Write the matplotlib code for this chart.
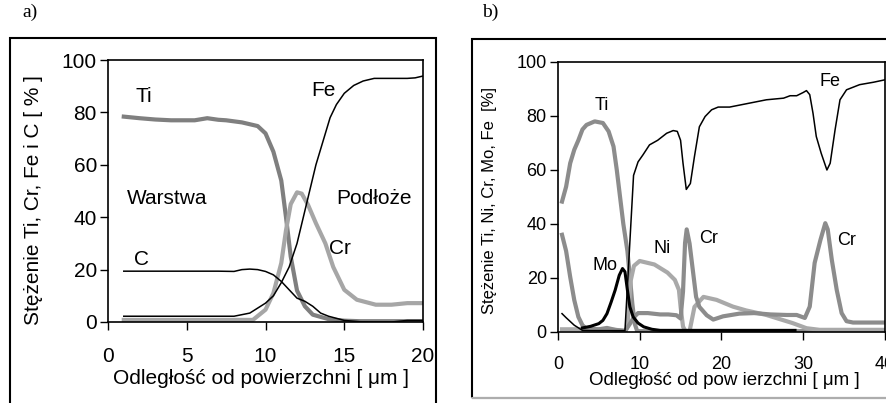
import matplotlib
matplotlib.use("Agg")
import matplotlib.pyplot as plt
from matplotlib.patches import Rectangle
from matplotlib.lines import Line2D

plt.rcParams['font.family'] = ['Liberation Sans', 'DejaVu Sans']

# panel a) - profil Ti, Cr, Fe, C
a_ti_x = [1, 2, 3, 4, 5, 5.5, 6.3, 7, 7.5, 8.5, 9.5, 10, 10.5, 11, 11.3, 11.6, 12, 12.5, 13, 14, 15, 16, 18, 20]
a_ti_y = [78.4, 77.8, 77.3, 77.0, 77.0, 77.0, 77.8, 77.2, 77.0, 76.2, 74.8, 72, 65, 54, 40, 25, 12, 6, 2.8, 1.1, 0.5, 0.3, 0.3, 0.3]

a_cr_x = [1, 3, 5, 7, 8, 9.2, 10, 10.5, 11, 11.3, 11.6, 12, 12.3, 12.7, 13.2, 13.8, 14.3, 15, 15.8, 17, 18, 19, 20]
a_cr_y = [0.8, 0.8, 0.8, 0.8, 0.8, 0.8, 4.7, 11, 22.5, 35, 45, 49.5, 49, 44.7, 37.7, 30, 21, 12.3, 8.5, 6.6, 6.6, 7.2, 7.2]

a_fe_x = [1, 3, 5, 7, 8, 9, 10, 10.5, 11, 11.5, 12, 12.4, 12.8, 13.2, 13.6, 14.1, 14.5, 15, 15.6, 16.2, 16.9, 18, 19, 19.5, 20]
a_fe_y = [2.2, 2.2, 2.2, 2.2, 2.2, 3.4, 7.2, 10, 15, 21, 30, 40, 50, 60, 68, 78, 83, 87.3, 90.3, 92, 93, 93, 93, 93.2, 93.9]

a_c_x = [1, 3, 5, 7, 8, 8.5, 9, 9.5, 10, 10.5, 11, 11.5, 12, 12.5, 13, 13.5, 14, 15, 16, 17, 18, 19, 20]
a_c_y = [19.4, 19.4, 19.4, 19.4, 19.3, 20, 20.2, 20, 19.3, 18, 15.5, 12.3, 9.1, 7.9, 6, 3.4, 2.2, 0.6, 0.1, 0, 0, 0.6, 0.6]

# panel b) - profil Ti, Ni, Cr, Mo, Fe
b_ti_x = [0.5, 1, 1.5, 2, 2.5, 3, 3.5, 4.5, 5.5, 6.2, 6.8, 7.2, 7.6, 8, 8.5, 8.8, 9.1, 9.4, 9.7, 40]
b_ti_y = [48.3, 53.8, 62.5, 67.5, 71, 75, 76.7, 78, 77.4, 74.3, 68.7, 60, 50, 40, 30, 20.4, 10.5, 3, 0.3, 0.3]

b_cr_x = [0.5, 1, 1.5, 2, 2.5, 3, 3.5, 5, 6, 7, 8.2, 8.8, 9.3, 9.8, 11, 12.5, 13.5, 14.5, 15.0, 15.3, 15.55, 15.75, 16.1, 16.5, 16.9, 17.3, 18.2, 19, 20.2, 22.2, 24, 26, 28, 29.2, 30.2, 30.8, 31.4, 32.1, 32.7, 33.0, 33.5, 34.1, 34.7, 35.3, 36.1, 38, 40]
b_cr_y = [36, 30, 20.4, 11.8, 5.6, 2.5, 1.2, 1, 1.5, 0.8, 0.3, 3, 5.5, 7, 7, 6.5, 6.5, 6.2, 5, 15, 33, 38, 32.8, 22.9, 13, 9.3, 6.2, 4.6, 5.8, 6.8, 7, 6.5, 6.3, 6.3, 5.2, 9.4, 25.6, 34, 40.3, 38, 26.7, 15.6, 7, 4, 3.5, 3.5, 3.5]

b_ni_x = [0.5, 3, 6, 8.3, 8.5, 8.7, 8.9, 9.3, 10.0, 11.8, 13.4, 14.3, 14.8, 15.0, 15.3, 15.6, 16.1, 16.7, 17.8, 19.4, 21.4, 23, 25.5, 28.7, 30.4, 32, 40]
b_ni_y = [1, 1, 1, 0.5, 2, 10, 19, 24.5, 26.3, 25, 22, 19.3, 15.6, 9.4, 2, 0.3, 0.3, 9.3, 13, 11.9, 9.4, 8, 6.3, 3.3, 1.4, 0.8, 0.8]

b_mo_x = [3, 4, 5, 5.5, 6, 6.5, 7, 7.5, 7.9, 8.2, 8.5, 8.8, 9.2, 9.8, 10.5, 11.5, 12.5, 20, 29]
b_mo_y = [1.5, 2.1, 3.1, 4.3, 6.8, 11, 15.5, 21, 23.5, 22.3, 15.5, 9.3, 5.6, 3.3, 1.9, 1, 0.6, 0.6, 0.6]

b_fe_x = [0.5, 1, 2, 3, 4, 7, 8.2, 9.25, 9.8, 10.4, 11.2, 12.2, 13.3, 14.1, 14.6, 15, 15.3, 15.7, 16.2, 16.7, 17.3, 18, 18.8, 19.6, 21, 23, 25.5, 27.6, 28.4, 29.2, 30, 30.4, 30.8, 31.2, 31.6, 32.2, 32.9, 33.3, 33.9, 34.5, 35.3, 36.9, 38.6, 40]
b_fe_y = [6.8, 5.3, 2.5, 0.6, 0.5, 0.5, 0.5, 58, 63, 65.6, 69.3, 71, 73.6, 74.6, 74.3, 71, 62.5, 52.8, 55, 65, 76, 79.8, 82.3, 83.3, 83.3, 84.5, 86, 86.6, 87.5, 87.5, 88.7, 89.4, 87.9, 81, 72.4, 66.2, 60, 62.5, 74.9, 86, 89.7, 91.6, 92.5, 93.4]

fig = plt.figure(figsize=(8.87, 4.03), dpi=100)

# ramki wokol paneli
fig.patches.append(Rectangle((0.0113, -0.05), 0.480, 0.9557, transform=fig.transFigure,
                             fill=False, lw=1.5, ec='black'))
fig.patches.append(Rectangle((0.532, 0.0124), 0.52, 0.8906, transform=fig.transFigure,
                             fill=False, lw=1.5, ec='black'))
fig.lines.append(Line2D([0.532, 1.0], [0.0124, 0.0124], transform=fig.transFigure, lw=1.2, color='#d0d0d0'))

fig.text(0.034, 0.97, 'a)', family='Liberation Serif', fontsize=14, ha='center', va='center')
fig.text(0.553, 0.97, 'b)', family='Liberation Serif', fontsize=14, ha='center', va='center')

# ---- a) ----
ax1 = fig.add_axes([0.1218, 0.201, 0.3551, 0.650])
ax1.plot(a_ti_x, a_ti_y, color='#7f7f7f', lw=3)
ax1.plot(a_cr_x, a_cr_y, color='#a6a6a6', lw=3)
ax1.plot(a_fe_x, a_fe_y, color='black', lw=1.1)
ax1.plot(a_c_x, a_c_y, color='black', lw=1.1)
ax1.set_xlim(0, 20)
ax1.set_ylim(0, 100)
ax1.set_xticks([0, 5, 10, 15, 20])
ax1.set_yticks([0, 20, 40, 60, 80, 100])
ax1.tick_params(axis='both', direction='out', length=6, width=1, labelsize=15)
ax1.tick_params(axis='x', pad=12)
ax1.tick_params(axis='y', pad=2)
for s in ax1.spines.values():
    s.set_linewidth(1.2)
ax1.text(0.487, -0.214, 'Odległość od powierzchni [ μm ]', transform=ax1.transAxes,
         ha='center', va='center', fontsize=15)
ax1.text(-0.238, 0.466, 'Stężenie Ti, Cr, Fe i C [ % ]', transform=ax1.transAxes,
         ha='center', va='center', rotation=90, fontsize=15)
ax1.text(2.3, 86, 'Ti', ha='center', va='center', fontsize=15)
ax1.text(13.7, 88.5, 'Fe', ha='center', va='center', fontsize=15)
ax1.text(3.75, 47, 'Warstwa', ha='center', va='center', fontsize=15)
ax1.text(16.9, 47, 'Podłoże', ha='center', va='center', fontsize=15)
ax1.text(14.75, 28, 'Cr', ha='center', va='center', fontsize=15)
ax1.text(2.15, 23.8, 'C', ha='center', va='center', fontsize=15)

# ---- b) ----
ax2 = fig.add_axes([0.629, 0.1762, 0.3687, 0.670])
ax2.plot(b_ti_x, b_ti_y, color='#8c8c8c', lw=3)
ax2.plot(b_ni_x, b_ni_y, color='#a9a9a9', lw=3)
ax2.plot(b_cr_x, b_cr_y, color='#8c8c8c', lw=3)
ax2.plot(b_mo_x, b_mo_y, color='black', lw=2.2)
ax2.plot(b_fe_x, b_fe_y, color='black', lw=1.1)
ax2.set_xlim(0, 40)
ax2.set_ylim(0, 100)
ax2.set_xticks([0, 10, 20, 30, 40])
ax2.set_yticks([0, 20, 40, 60, 80, 100])
ax2.tick_params(axis='both', direction='out', length=6, width=1, labelsize=13)
ax2.tick_params(axis='x', pad=11)
ax2.tick_params(axis='y', pad=2)
for s in ax2.spines.values():
    s.set_linewidth(1.2)
ax2.text(0.508, -0.178, 'Odległość od pow ierzchni [ μm ]', transform=ax2.transAxes,
         ha='center', va='center', fontsize=13.5)
ax2.text(-0.208, 0.487, 'Stężenie Ti, Ni, Cr, Mo, Fe  [%]', transform=ax2.transAxes,
         ha='center', va='center', rotation=90, fontsize=12)
ax2.text(5.4, 84, 'Ti', ha='center', va='center', fontsize=13)
ax2.text(33.3, 92.8, 'Fe', ha='center', va='center', fontsize=13)
ax2.text(5.8, 24.8, 'Mo', ha='center', va='center', fontsize=13)
ax2.text(12.7, 31, 'Ni', ha='center', va='center', fontsize=13)
ax2.text(18.4, 34.7, 'Cr', ha='center', va='center', fontsize=13)
ax2.text(35.3, 33.8, 'Cr', ha='center', va='center', fontsize=13)

fig.savefig('out.png', dpi=100)
